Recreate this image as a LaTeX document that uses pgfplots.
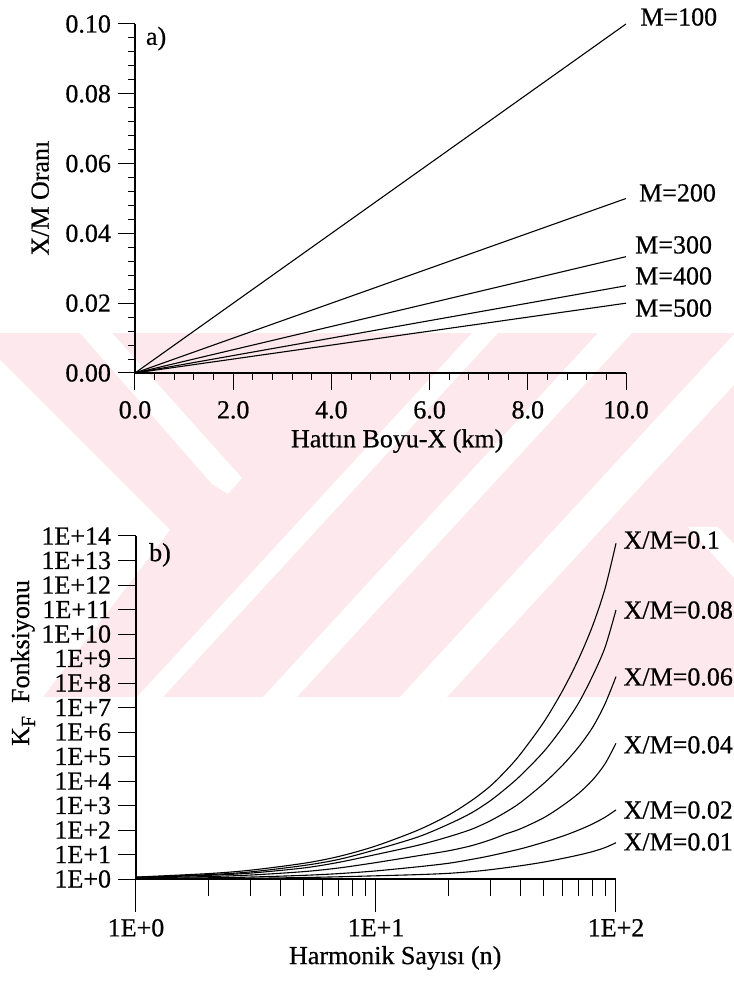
\documentclass[border=0pt]{standalone}
\usepackage{fontspec}
\setmainfont{Liberation Serif}[RawFeature={embolden=0.6}]
\usepackage{pgfplots}
\pgfplotsset{compat=1.18}

\definecolor{wmpink}{RGB}{252,232,237}
\newcommand\lblfont{\fontsize{13}{15.6}\selectfont}

\pgfplotsset{
  plainaxis/.style={
    scale only axis,
    axis lines*=left,
    axis line style={line width=0.6pt},
    tick style={line width=0.5pt, black},
    tick align=outside,
    tick label style={font=\lblfont},
    clip=false,
  },
  curve/.style={line width=0.55pt, black, no marks},
}

\begin{document}
\begin{tikzpicture}
\useasboundingbox (0,0) rectangle (367pt,490.5pt);

% pale striped band in the background
\begin{scope}[yshift=490.5pt, x=0.5pt, y=-0.5pt]
  \fill[wmpink] (0,333) rectangle (734,697);
  \fill[white] (0,360) -- (170,530) -- (43,697) -- (0,697) -- cycle;
  \fill[white] (80,333) -- (112,333) -- (242,478) -- (228,494) -- (212,484) -- cycle;
  \fill[white] (137,697) -- (163,697) -- (498,333) -- (472,333) -- cycle;
  \fill[white] (263,697) -- (297,697) -- (632,333) -- (598,333) -- cycle;
  \fill[white] (400,697) -- (447,697) -- (734,385) -- (734,333) -- (735,333) -- cycle;
  \fill[white] (688,527) -- (718,527) -- (734,544) -- (734,578) -- cycle;
\end{scope}

% (a) X/M ratio against line length
\begin{axis}[
  plainaxis,
  at={(67.5pt,304pt)}, anchor=south west,
  width=245.5pt, height=174.5pt,
  xmin=0, xmax=10, ymin=0, ymax=0.1,
  major tick length=8.5pt, minor tick length=3.5pt,
  xtick={0,2,4,6,8,10}, xticklabels={0.0,2.0,4.0,6.0,8.0,10.0},
  ytick={0,0.02,0.04,0.06,0.08,0.1},
  yticklabels={0.00,0.02,0.04,0.06,0.08,0.10},
  minor x tick num=4, minor y tick num=4,
  xticklabel shift=2pt,
]
\addplot[curve] coordinates {(0,0) (2,0.02) (4,0.04) (6,0.06) (8,0.08) (10,0.1)};
\addplot[curve] coordinates {(0,0) (2,0.01) (4,0.02) (6,0.03) (8,0.04) (10,0.05)};
\addplot[curve] coordinates {(0,0) (2,0.00667) (4,0.01333) (6,0.02) (8,0.02667) (10,0.03333)};
\addplot[curve] coordinates {(0,0) (2,0.005) (4,0.01) (6,0.015) (8,0.02) (10,0.025)};
\addplot[curve] coordinates {(0,0) (2,0.004) (4,0.008) (6,0.012) (8,0.016) (10,0.02)};

\node[font=\lblfont] at (axis description cs:0.534,-0.195) {Hattın Boyu-X (km)};
\node[font=\lblfont, rotate=90] at (axis description cs:-0.193,0.501) {X/M Oranı};
\node[font=\lblfont] at (axis description cs:0.043,0.958) {a)};
\node[font=\lblfont, anchor=west, inner sep=0pt] at (axis description cs:1.0285,1.020) {M=100};
\node[font=\lblfont, anchor=west, inner sep=0pt] at (axis description cs:1.026,0.516) {M=200};
\node[font=\lblfont, anchor=west, inner sep=0pt] at (axis description cs:1.018,0.367) {M=300};
\node[font=\lblfont, anchor=west, inner sep=0pt] at (axis description cs:1.018,0.278) {M=400};
\node[font=\lblfont, anchor=west, inner sep=0pt] at (axis description cs:1.018,0.186) {M=500};
\end{axis}

% (b) K_F function against harmonic order
\begin{axis}[
  plainaxis,
  at={(68pt,51pt)}, anchor=south west,
  width=240pt, height=171.5pt,
  xmode=log, ymode=log,
  xmin=1, xmax=100, ymin=1, ymax=1e14,
  major tick length=9pt, minor tick length=8.5pt,
  xtick={1,10,100}, xticklabels={},
  minor xtick={2,3,4,5,6,7,8,9,20,30,40,50,60,70,80,90},
  extra x ticks={1,10,100},
  extra x tick labels={1E+0,1E+1,1E+2},
  extra x tick style={major tick length=16.5pt},
  ytick={1,1e1,1e2,1e3,1e4,1e5,1e6,1e7,1e8,1e9,1e10,1e11,1e12,1e13,1e14},
  yticklabels={1E+0,1E+1,1E+2,1E+3,1E+4,1E+5,1E+6,1E+7,1E+8,1E+9,1E+10,1E+11,1E+12,1E+13,1E+14},
  yminorticks=false,
]
% X/M = 0.1
\addplot[curve, smooth] coordinates {
  (1,1.20) (2,1.66) (3,2.29) (5,4.37) (7,8.32) (10,22.4) (15,100) (20,398)
  (25,1585) (30,6310) (35,2.82e4) (40,1.26e5) (50,2.51e6) (60,5.01e7)
  (70,1.0e9) (80,2.24e10) (90,7.08e11) (100,5.01e13)};
% X/M = 0.08
\addplot[curve, smooth] coordinates {
  (1,1.17) (2,1.51) (3,1.95) (5,3.55) (7,6.31) (10,15.8) (15,52.5) (20,170)
  (25,501) (30,1585) (35,5250) (40,1.66e4) (50,1.58e5) (60,1.58e6)
  (70,1.58e7) (80,2.0e8) (90,2.82e9) (100,9.55e10)};
% X/M = 0.06
\addplot[curve, smooth] coordinates {
  (1,1.15) (2,1.41) (3,1.74) (5,2.82) (7,4.79) (10,10.0) (15,24.0) (20,52.5)
  (25,107) (30,240) (35,562) (40,1318) (50,7943) (60,4.47e4)
  (70,2.51e5) (80,1.58e6) (90,1.41e7) (100,1.82e8)};
% X/M = 0.04
\addplot[curve, smooth] coordinates {
  (1,1.10) (2,1.26) (3,1.45) (5,2.00) (7,2.82) (10,4.68) (15,8.91) (20,14.1)
  (25,22.9) (30,39.8) (35,70.8) (40,112) (50,316) (60,1000)
  (70,3162) (80,1.12e4) (90,5.01e4) (100,3.47e5)};
% X/M = 0.02
\addplot[curve, smooth] coordinates {
  (1,1.05) (2,1.12) (3,1.20) (5,1.41) (7,1.66) (10,2.14) (15,3.16) (20,4.37)
  (25,6.31) (30,8.91) (40,17.0) (50,31.6) (60,56.2) (70,100)
  (80,178) (90,331) (100,661)};
% X/M = 0.01
\addplot[curve, smooth] coordinates {
  (1,1.02) (2,1.05) (3,1.07) (5,1.15) (7,1.23) (10,1.35) (15,1.51) (20,1.70)
  (25,2.00) (30,2.40) (40,3.47) (50,4.90) (60,6.92) (70,9.55)
  (80,13.2) (90,19.1) (100,30.2)};

\node[font=\lblfont] at (axis description cs:0.540,-0.230) {Harmonik Sayısı (n)};
\node[font=\lblfont, rotate=90] at (axis description cs:-0.2354,0.630)
  {K\raisebox{-0.5ex}{\fontsize{10}{12}\selectfont F}\hspace{0.5em}Fonksiyonu};
\node[font=\lblfont] at (axis description cs:0.05,0.945) {b)};
\node[font=\lblfont, anchor=west, inner sep=0pt] at (axis description cs:1.015,0.988) {X/M=0.1};
\node[font=\lblfont, anchor=west, inner sep=0pt] at (axis description cs:1.015,0.784) {X/M=0.08};
\node[font=\lblfont, anchor=west, inner sep=0pt] at (axis description cs:1.015,0.589) {X/M=0.06};
\node[font=\lblfont, anchor=west, inner sep=0pt] at (axis description cs:1.015,0.391) {X/M=0.04};
\node[font=\lblfont, anchor=west, inner sep=0pt] at (axis description cs:1.015,0.201) {X/M=0.02};
\node[font=\lblfont, anchor=west, inner sep=0pt] at (axis description cs:1.015,0.108) {X/M=0.01};
\end{axis}
\end{tikzpicture}
\end{document}
